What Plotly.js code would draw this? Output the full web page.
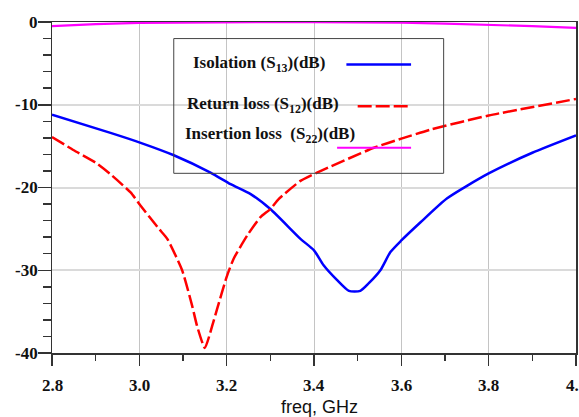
<!DOCTYPE html>
<html>
<head>
<meta charset="utf-8">
<script src="https://cdn.plot.ly/plotly-3.0.1.min.js"></script>
<style>html,body{margin:0;padding:0;background:#fff;}#chart{width:579px;height:417px;}</style>
</head>
<body>
<div id="chart"></div>
<script>
// Isolation S13 (dB)
var isoFreq = [2.80, 2.934, 3.003, 3.079, 3.163, 3.209, 3.255, 3.30, 3.369, 3.40, 3.422, 3.453, 3.48, 3.506, 3.525, 3.552, 3.575, 3.60, 3.644, 3.705, 3.80, 3.90, 4.00];
var isoDB   = [-11.2, -13.4, -14.6, -16.1, -18.2, -19.6, -20.8, -22.6, -26.2, -27.6, -29.4, -31.2, -32.5, -32.5, -31.6, -30.0, -27.8, -26.4, -24.2, -21.3, -18.3, -15.8, -13.7];
// Return loss S12 (dB)
var retFreq = [2.80, 2.85, 2.90, 2.934, 2.98, 3.003, 3.045, 3.064, 3.098, 3.121, 3.132, 3.15, 3.167, 3.178, 3.20, 3.216, 3.247, 3.277, 3.30, 3.319, 3.369, 3.407, 3.537, 3.60, 3.667, 3.80, 4.00];
var retDB   = [-13.9, -15.5, -17.0, -18.4, -20.6, -22.2, -25.0, -26.2, -30.0, -34.3, -36.7, -39.4, -36.7, -34.7, -30.8, -28.6, -25.8, -23.6, -22.6, -21.4, -19.2, -18.2, -15.2, -14.1, -13.0, -11.3, -9.3];
// Insertion loss S22 (dB)
var insFreq = [2.80, 2.90, 3.00, 3.10, 3.20, 3.30, 3.40, 3.50, 3.60, 3.70, 3.80, 3.90, 4.00];
var insDB   = [-0.50, -0.25, -0.10, -0.05, -0.02, -0.01, -0.01, -0.03, -0.08, -0.20, -0.33, -0.50, -0.72];

var yTickVals = [-40, -30, -20, -10, 0];
var yTickText = ['-40', '-30', '-20', '-10', '0'];
var xTickVals = [2.8, 3.0, 3.2, 3.4, 3.6, 3.8, 4.0];
var xTickText = ['2.8', '3.0', '3.2', '3.4', '3.6', '3.8', '4.0'];
var legendLabels = ['Isolation (S<sub>13</sub>)(dB)', 'Return loss (S<sub>12</sub>)(dB)', 'Insertion loss\u00a0 (S<sub>22</sub>)(dB)'];
var xTitle = 'freq, GHz';

// plot area in pixels (for placing decorations)
var L = 51.5, R = 575.7, T = 21.7, B = 353.3;
function px(x){ return (x - L) / (R - L); }
function py(y){ return (B - y) / (B - T); }

var traces = [
  {x: isoFreq, y: isoDB, mode: 'lines', line: {color: '#0000ff', width: 2.5, shape: 'spline', smoothing: 0.6}, showlegend: false, hoverinfo: 'skip'},
  {x: retFreq, y: retDB, mode: 'lines', line: {color: '#ff0000', width: 2.5, dash: '14px,4px', shape: 'spline', smoothing: 0.5}, showlegend: false, hoverinfo: 'skip'},
  {x: insFreq, y: insDB, mode: 'lines', line: {color: '#ff00ff', width: 2.2}, showlegend: false, hoverinfo: 'skip'}
];

var SERIF = 'Liberation Serif';
var boldSerif = {family: SERIF, size: 17, color: '#111', weight: 'bold'};

var annotations = [
  {xref: 'paper', yref: 'paper', x: px(191), y: py(64), xanchor: 'left', yanchor: 'middle', text: legendLabels[0], showarrow: false, font: boldSerif},
  {xref: 'paper', yref: 'paper', x: px(184.5), y: py(105), xanchor: 'left', yanchor: 'middle', text: legendLabels[1], showarrow: false, font: boldSerif},
  {xref: 'paper', yref: 'paper', x: px(182.5), y: py(135), xanchor: 'left', yanchor: 'middle', text: legendLabels[2], showarrow: false, font: boldSerif},
  {xref: 'paper', yref: 'paper', x: 0.5 + 6 / (R - L), y: py(407), xanchor: 'center', yanchor: 'middle', text: xTitle, showarrow: false,
   font: {family: 'Liberation Sans', size: 18, color: '#111'}}
];
// tick labels placed at the axis values
xTickVals.forEach(function(v, i){
  annotations.push({xref: 'x', yref: 'paper', x: v, y: py(386), xanchor: 'center', yanchor: 'middle',
    text: xTickText[i], showarrow: false, font: boldSerif});
});
yTickVals.forEach(function(v, i){
  annotations.push({xref: 'paper', yref: 'y', x: px(39.5), y: v, xanchor: 'right', yanchor: 'middle',
    text: yTickText[i], showarrow: false, font: boldSerif});
});

var layout = {
  width: 579, height: 417,
  font: {family: SERIF, size: 17, color: '#111'},
  margin: {l: L, r: 579 - R, t: T, b: 417 - B, pad: 0},
  paper_bgcolor: '#fff', plot_bgcolor: '#fff',
  xaxis: {
    range: [2.8, 4.0], tickmode: 'array', tickvals: xTickVals, showticklabels: false,
    ticks: 'outside', ticklen: 11, tickwidth: 1.5, tickcolor: '#333',
    showline: true, linecolor: '#333', linewidth: 1.5, mirror: true,
    showgrid: true, gridcolor: '#c4c4c4', gridwidth: 1,
    zeroline: false, layer: 'below traces',
    minor: {dtick: 0.1, tick0: 2.8, ticks: 'outside', ticklen: 6, tickwidth: 1.5, tickcolor: '#333', showgrid: false},
    automargin: false
  },
  yaxis: {
    range: [-40, 0], tickmode: 'array', tickvals: yTickVals, showticklabels: false,
    ticks: 'outside', ticklen: 13, tickwidth: 1.5, tickcolor: '#333',
    showline: true, linecolor: '#333', linewidth: 1.5, mirror: true,
    showgrid: true, gridcolor: '#dadada', gridwidth: 2,
    zeroline: false, layer: 'below traces',
    minor: {dtick: 2, ticks: 'outside', ticklen: 8, tickwidth: 1.5, tickcolor: '#333', showgrid: false},
    automargin: false
  },
  shapes: [
    {type: 'rect', xref: 'paper', yref: 'paper', x0: px(173.3), x1: px(443.3), y0: py(173.3), y1: py(38.3), line: {color: '#444', width: 1}, fillcolor: 'rgba(0,0,0,0)'},
    {type: 'line', xref: 'paper', yref: 'paper', x0: px(346), x1: px(410.7), y0: py(64.3), y1: py(64.3), line: {color: '#0000ff', width: 2.5}},
    {type: 'line', xref: 'paper', yref: 'paper', x0: px(357.3), x1: px(410.7), y0: py(106), y1: py(106), line: {color: '#ff0000', width: 2.5, dash: '14px,4px'}},
    {type: 'line', xref: 'paper', yref: 'paper', x0: px(336.7), x1: px(410.7), y0: py(147.7), y1: py(147.7), line: {color: '#ff00ff', width: 2.2}}
  ],
  annotations: annotations
};

Plotly.newPlot('chart', traces, layout, {displayModeBar: false, staticPlot: true});
</script>
</body>
</html>
